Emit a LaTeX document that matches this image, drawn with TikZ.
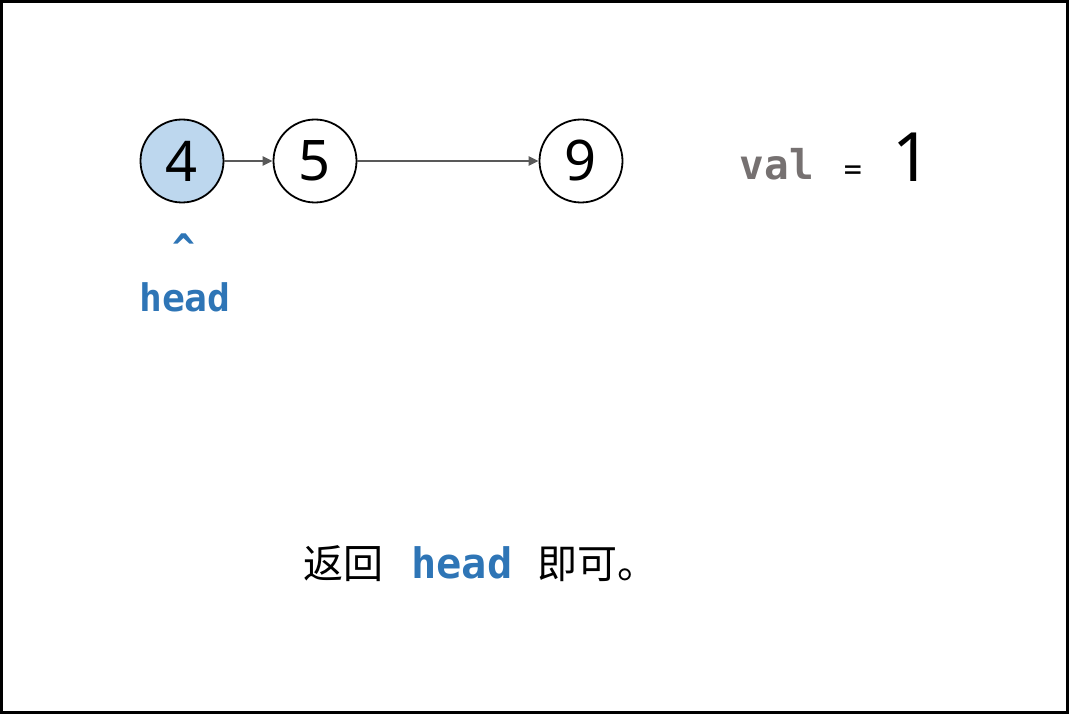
\documentclass[tikz,border=0pt]{standalone}
\usepackage{fontspec}
\setmainfont{Noto Sans}
\newfontfamily\cjk{Noto Sans CJK SC}
\newfontfamily\codefont{DejaVu Sans Mono}
\usetikzlibrary{arrows.meta}
\definecolor{headblue}{HTML}{2E75B6}
\definecolor{nodefill}{HTML}{BDD7EE}
\definecolor{arrowgray}{HTML}{595959}
\definecolor{valgray}{HTML}{767171}
\tikzset{
  listnode/.style={circle, draw=black, line width=1.8pt, minimum size=83pt, inner sep=0pt,
    font=\fontsize{56}{56}\selectfont},
  link/.style={draw=arrowgray, line width=2.3pt, -{Triangle[length=10pt,width=9pt]}},
  codelabel/.style={text=headblue, font=\codefont\bfseries\fontsize{38}{38}\selectfont, inner sep=0pt},
}
\begin{document}
\begin{tikzpicture}[x=1pt,y=-1pt]
\useasboundingbox (0,0) rectangle (1069,714);
\draw[line width=3pt] (1.5,1.5) rectangle (1067.5,712.5);
\node[listnode, fill=nodefill] (n4) at (182,161) {4};
\node[listnode, fill=white] (n5) at (315,161) {5};
\node[listnode, fill=white] (n9) at (581,161) {9};
\draw[link] (n4) -- (n5);
\draw[link] (n5) -- (n9);
\node[codelabel] (caret) at (184,248) {\^{}};
\node[codelabel, anchor=base] (headlbl) at (185,312) {head};
\node[anchor=base, inner sep=0pt, text=valgray, font=\codefont\bfseries\fontsize{41}{41}\selectfont] (val) at (777,180) {val};
\node[anchor=base, inner sep=0pt, font=\codefont\fontsize{30}{30}\selectfont] (eq) at (853,180) {=};
\node[anchor=base, inner sep=0pt, font=\fontsize{68}{68}\selectfont] (one) at (912,182) {1};
\node[anchor=base, inner sep=0pt, font=\cjk\fontsize{40}{40}\selectfont] (ret) at (343,578) {返回};
\node[codelabel, anchor=base, font=\codefont\bfseries\fontsize{42}{42}\selectfont] (head2) at (462,578) {head};
\node[anchor=base, inner sep=0pt, font=\cjk\fontsize{40}{40}\selectfont] (ok) at (597,578) {即可。};
\end{tikzpicture}
\end{document}
